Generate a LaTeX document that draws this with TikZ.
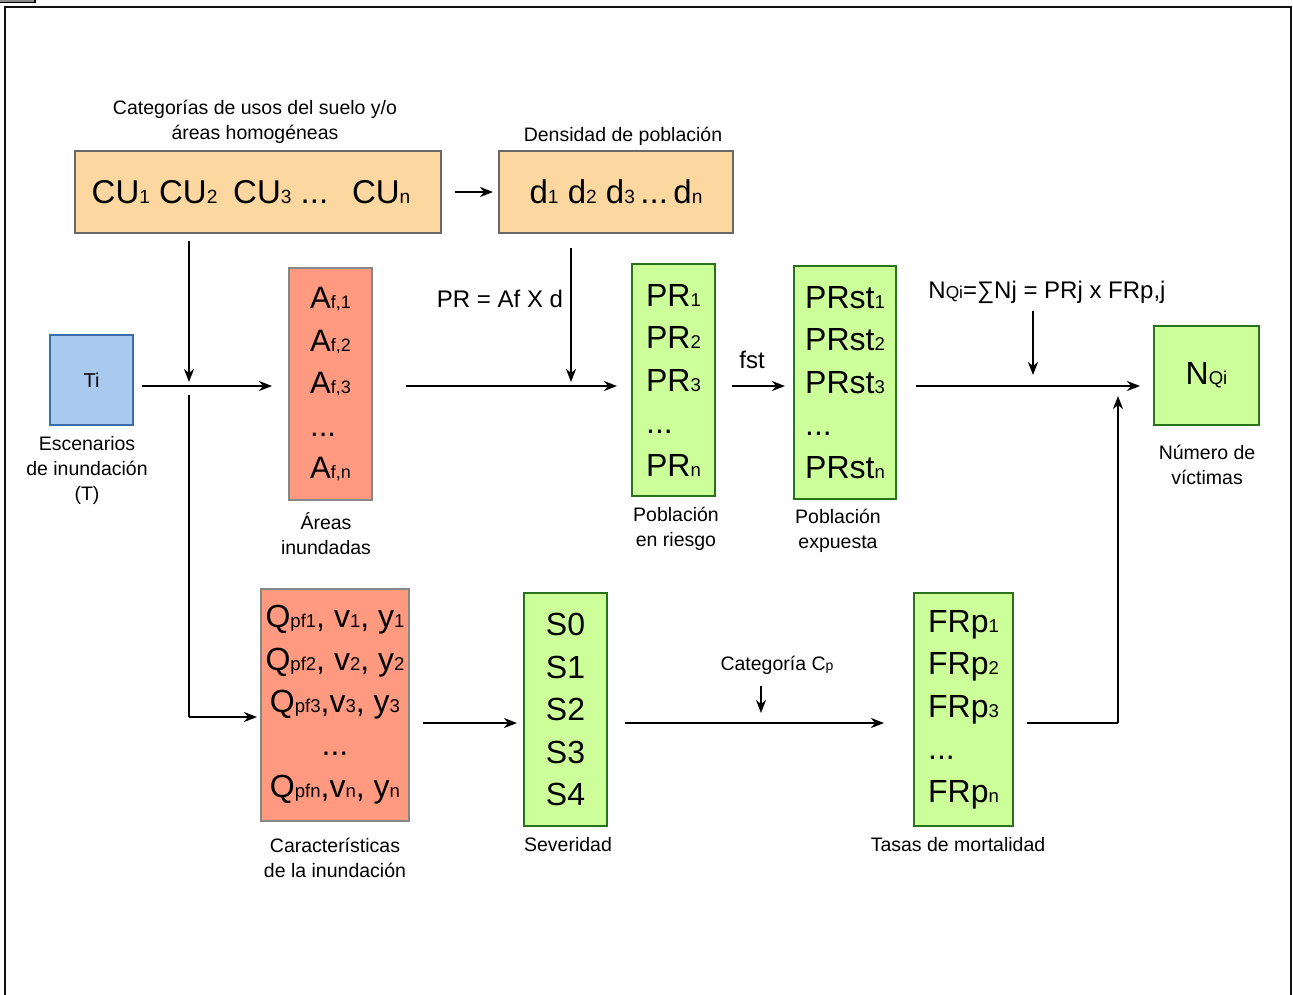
\documentclass[tikz,border=0pt]{standalone}
\usepackage{fontspec}
\setmainfont{Liberation Sans}
\usepackage{graphicx}
\usetikzlibrary{arrows.meta}
\newcommand\sbs[1]{\scalebox{0.58}{#1}}
\newcommand\sbl[1]{\scalebox{0.72}{#1}}
\definecolor{orangefill}{RGB}{252,216,160}
\definecolor{orangeline}{RGB}{105,105,105}
\definecolor{salmonfill}{RGB}{255,153,128}
\definecolor{salmonline}{RGB}{135,135,135}
\definecolor{greenfill}{RGB}{204,255,153}
\definecolor{greenline}{RGB}{40,115,25}
\definecolor{bluefill}{RGB}{169,201,238}
\definecolor{blueline}{RGB}{60,110,170}
\tikzset{
  box/.style={draw, line width=2pt, inner sep=0pt, outer sep=0pt},
  orangebox/.style={box, fill=orangefill, draw=orangeline, font=\fontsize{33}{42.5}\selectfont},
  salmonbox/.style={box, fill=salmonfill, draw=salmonline, align=left, font=\fontsize{31}{42.5}\selectfont},
  greenbox/.style={box, fill=greenfill, draw=greenline, align=left, font=\fontsize{32}{42.5}\selectfont},
  lbl/.style={align=center, inner sep=0pt, font=\fontsize{19.5}{25}\selectfont},
  formula/.style={inner sep=0pt, font=\fontsize{24}{28}\selectfont},
  arr/.style={line width=2pt, -{Stealth[length=13pt,width=10pt,inset=4pt]}},
  ln/.style={line width=2pt}
}
\begin{document}
\begin{tikzpicture}[x=1pt,y=-1pt]
\useasboundingbox (0,0) rectangle (1293,994);
% outer frame and small corner box
\draw[line width=2.5pt, color=black!93] (5,1010) -- (5,7) -- (1291,7) -- (1291,1010);
\draw[line width=1.2pt, fill=black!45] (-2,-6) rectangle (35,2.5);

% top row
\node[orangebox, minimum width=366pt, minimum height=82pt] (cu) at (258,192) {CU\sbs{1} CU\sbs{2}\hspace{0.2em} CU\sbs{3} ...\hspace{0.35em} CU\sbs{n}\hspace*{14pt}};
\node[orangebox, minimum width=234pt, minimum height=82pt] (d) at (616,192) {d\sbs{1} d\sbs{2} d\sbs{3}\,...\,d\sbs{n}};
\node[lbl] (cul) at (255,122) {Categorías de usos del suelo y/o\\áreas homogéneas};
\node[lbl] (dl) at (623,136) {Densidad de población};

% middle row
\node[box, fill=bluefill, draw=blueline, minimum width=83pt, minimum height=90pt, font=\fontsize{20}{24}\selectfont] (ti) at (91.5,380) {Ti};
\node[lbl] (til) at (87,470) {Escenarios\\de inundación\\(T)};
\node[salmonbox, minimum width=83pt, minimum height=232pt] (af) at (330.5,384) {A\sbs{f,1}\\A\sbs{f,2}\\A\sbs{f,3}\\...\\A\sbs{f,n}};
\node[lbl] (afl) at (326,534) {Áreas\\inundadas};
\node[greenbox, minimum width=83pt, minimum height=232pt] (pr) at (673.5,380) {PR\sbs{1}\\PR\sbs{2}\\PR\sbs{3}\\...\\PR\sbs{n}};
\node[lbl] (prl) at (676,529) {Población\\en riesgo};
\node[greenbox, minimum width=102pt, minimum height=233pt] (prst) at (845,382.5) {PRst\sbs{1}\\PRst\sbs{2}\\PRst\sbs{3}\\...\\PRst\sbs{n}};
\node[lbl] (prstl) at (838,531) {Población\\expuesta};
\node[greenbox, minimum width=105pt, minimum height=99pt] (nq) at (1206.5,375.5) {N\sbs{Qi}};
\node[lbl] (nql) at (1207,465) {Número de\\víctimas};

\node[formula] (prf) at (500,299) {PR = Af X d};
\node[formula] (fst) at (752,360) {fst};
\node[formula] (nf) at (1047,292) {N\sbl{Qi}=∑Nj = PRj x FRp,j};

% bottom row
\node[salmonbox, align=center, font=\fontsize{32}{42.5}\selectfont, minimum width=148pt, minimum height=232pt] (q) at (335,705) {Q\sbs{pf1}, v\sbs{1}, y\sbs{1}\\Q\sbs{pf2}, v\sbs{2}, y\sbs{2}\\Q\sbs{pf3},v\sbs{3}, y\sbs{3}\\...\\Q\sbs{pfn},v\sbs{n}, y\sbs{n}};
\node[lbl] (ql) at (335,858) {Características\\de la inundación};
\node[greenbox, minimum width=83pt, minimum height=233pt] (s) at (565.5,709.5) {S0\\S1\\S2\\S3\\S4};
\node[lbl] (sl) at (568,845) {Severidad};
\node[greenbox, minimum width=99pt, minimum height=233pt] (fr) at (963.5,709.5) {FRp\sbs{1}\\FRp\sbs{2}\\FRp\sbs{3}\\...\\FRp\sbs{n}};
\node[lbl] (frl) at (958,845) {Tasas de mortalidad};
\node[lbl] (cpl) at (777,665) {Categoría C\sbl{p}};

% junction coordinates
\coordinate (j1) at (189,386);
\coordinate (j2) at (189,717);
\coordinate (j3) at (1118,723);
\coordinate (nfa) at (1033,311);
\coordinate (cpa) at (761,686);

% connectors
\draw[arr] ([shift={(14,0)}]cu.east) -- ([shift={(-6,0)}]d.west);
\draw[arr] ([shift={(0,8)}]cu.south -| j1) -- ([shift={(0,-4)}]j1);
\draw[arr] ([shift={(9,6)}]ti.east) -- ([shift={(-17,2)}]af.west);
\draw[ln] ([shift={(0,9)}]j1) -- (j2);
\draw[arr] (j2) -- ([shift={(-4,12)}]q.west);
\draw[arr] ([shift={(34,2)}]af.east) -- ([shift={(-15,6)}]pr.west);
\draw[arr] ([shift={(-45,15)}]d.south) -- ([shift={(-45,-2)}]d.south |- af.east);
\draw[arr] ([shift={(17,6)}]pr.east) -- ([shift={(-9,3.5)}]prst.west);
\draw[arr] ([shift={(20,3.5)}]prst.east) -- ([shift={(-14,10.5)}]nq.west);
\draw[arr] (nfa) -- ++(0,64);
\draw[arr] ([shift={(14,18)}]q.east) -- ([shift={(-7,13.5)}]s.west);
\draw[arr] ([shift={(18,13.5)}]s.east) -- ([shift={(-30,13.5)}]fr.west);
\draw[arr] (cpa) -- ++(0,27);
\draw[ln] ([shift={(14,13.5)}]fr.east) -- (j3);
\draw[arr] (j3) -- ([shift={(-36,20.5)}]nq.west);
\end{tikzpicture}
\end{document}
